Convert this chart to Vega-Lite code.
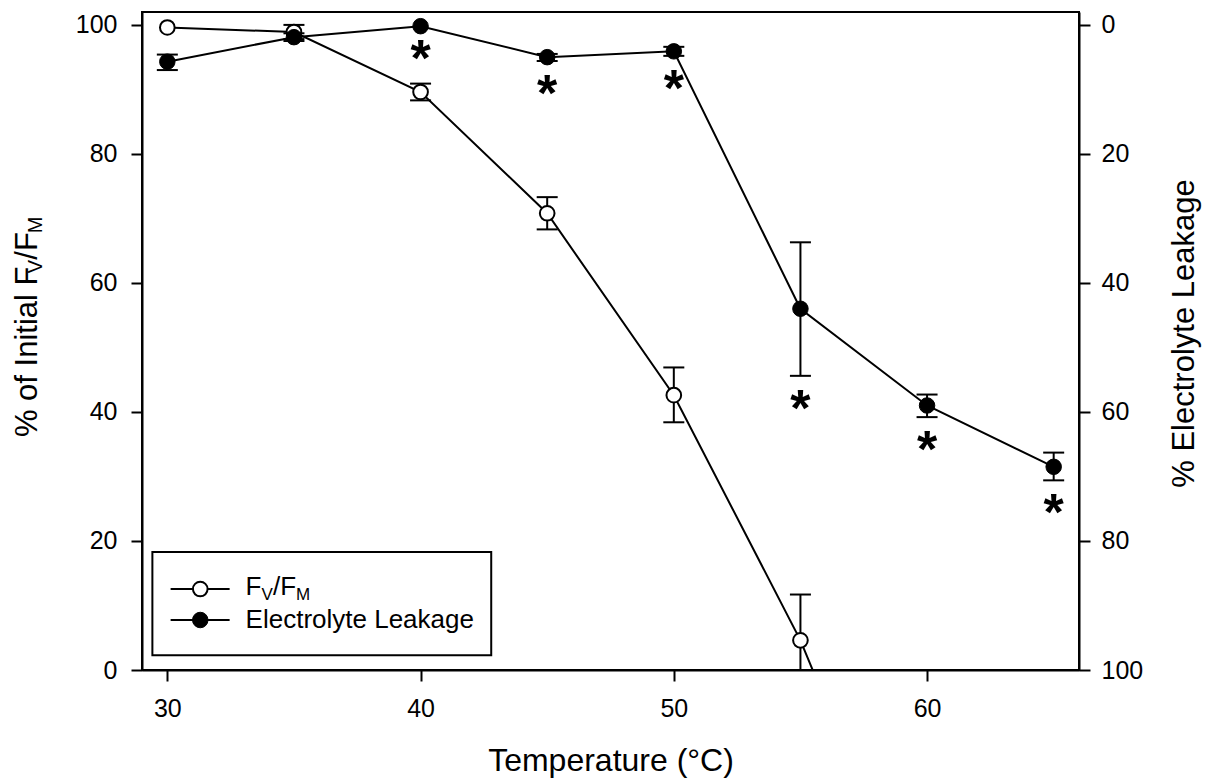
{
  "$schema": "https://vega.github.io/schema/vega-lite/v6.json",
  "width": 937,
  "height": 658,
  "autosize": {"type": "none"},
  "padding": {"left": 142, "top": 12, "right": 128, "bottom": 108},
  "background": "white",
  "config": {
    "font": "Liberation Sans",
    "view": {"stroke": "black", "strokeWidth": 2},
    "axis": {
      "domainColor": "black", "domainWidth": 2,
      "tickColor": "black", "tickWidth": 2, "tickSize": 11,
      "labelFont": "Liberation Sans", "labelFontSize": 25, "labelColor": "black",
      "titleFont": "Liberation Sans", "titleFontSize": 31, "titleFontWeight": "normal", "titleColor": "black",
      "grid": false
    }
  },
  "datasets": {
    "fv": [
      {"temp": 30, "fv": 99.6},
      {"temp": 35, "fv": 98.9, "fvLo": 97.8, "fvHi": 100.0},
      {"temp": 40, "fv": 89.6, "fvLo": 88.3, "fvHi": 90.9},
      {"temp": 45, "fv": 70.8, "fvLo": 68.3, "fvHi": 73.3},
      {"temp": 50, "fv": 42.6, "fvLo": 38.4, "fvHi": 46.9},
      {"temp": 55, "fv": 4.6, "fvLo": -2.5, "fvHi": 11.7},
      {"temp": 60, "fv": -43}
    ],
    "leak": [
      {"temp": 30, "leak": 5.7, "leakLo": 4.6, "leakHi": 7.0, "sig": ""},
      {"temp": 35, "leak": 1.9, "leakLo": 1.3, "leakHi": 2.5, "sig": ""},
      {"temp": 40, "leak": 0.2, "leakLo": 0.2, "leakHi": 0.2, "sig": "*"},
      {"temp": 45, "leak": 5.0, "leakLo": 4.5, "leakHi": 5.6, "sig": "*"},
      {"temp": 50, "leak": 4.1, "leakLo": 3.4, "leakHi": 4.8, "sig": "*"},
      {"temp": 55, "leak": 44.0, "leakLo": 33.7, "leakHi": 54.4, "sig": "*"},
      {"temp": 60, "leak": 59.0, "leakLo": 57.3, "leakHi": 60.8, "sig": "*"},
      {"temp": 65, "leak": 68.5, "leakLo": 66.3, "leakHi": 70.6, "sig": "*"}
    ]
  },
  "layer": [
    {
      "encoding": {
        "y": {
          "type": "quantitative",
          "scale": {"domain": [0, 102], "nice": false, "zero": false},
          "axis": {"orient": "left", "values": [0, 20, 40, 60, 80, 100], "title": null, "labelPadding": 14}
        }
      },
      "layer": [
        {
          "data": {"name": "fv"},
          "encoding": {
            "x": {
              "field": "temp", "type": "quantitative",
              "scale": {"domain": [29, 66], "nice": false, "zero": false},
              "axis": {"values": [30, 40, 50, 60], "title": "Temperature (°C)", "titleFontSize": 32, "labelPadding": 15, "titlePadding": 24}
            }
          },
          "layer": [
            {
              "transform": [{"filter": "isValid(datum.fvLo)"}],
              "mark": {"type": "rule", "color": "black", "strokeWidth": 2, "clip": true},
              "encoding": {"y": {"field": "fvLo", "type": "quantitative"}, "y2": {"field": "fvHi"}}
            },
            {
              "transform": [{"filter": "isValid(datum.fvLo)"}],
              "mark": {"type": "tick", "orient": "horizontal", "color": "black", "size": 21, "thickness": 2, "opacity": 1, "clip": true},
              "encoding": {"y": {"field": "fvLo", "type": "quantitative"}}
            },
            {
              "transform": [{"filter": "isValid(datum.fvHi)"}],
              "mark": {"type": "tick", "orient": "horizontal", "color": "black", "size": 21, "thickness": 2, "opacity": 1, "clip": true},
              "encoding": {"y": {"field": "fvHi", "type": "quantitative"}}
            },
            {
              "mark": {"type": "line", "color": "black", "strokeWidth": 2, "clip": true},
              "encoding": {"y": {"field": "fv", "type": "quantitative"}}
            },
            {
              "transform": [{"filter": "datum.fv >= 0"}],
              "mark": {"type": "point", "shape": "circle", "filled": true, "fill": "white", "stroke": "black", "strokeWidth": 2, "size": 215, "opacity": 1},
              "encoding": {"y": {"field": "fv", "type": "quantitative"}}
            }
          ]
        },
        {
          "data": {"values": [{"box": "legend"}]},
          "mark": {"type": "rect", "fill": "white", "stroke": "black", "strokeWidth": 2},
          "encoding": {
            "x": {"datum": 29.41, "type": "quantitative"}, "x2": {"datum": 42.79},
            "y": {"datum": 18.3, "type": "quantitative"}, "y2": {"datum": 2.3}
          }
        },
        {
          "data": {"values": [{"row": "fv", "ly": 12.55}, {"row": "leak", "ly": 7.75}]},
          "mark": {"type": "rule", "color": "black", "strokeWidth": 2},
          "encoding": {
            "x": {"datum": 30.13, "type": "quantitative"}, "x2": {"datum": 32.46},
            "y": {"field": "ly", "type": "quantitative"}
          }
        },
        {
          "data": {"values": [{"row": "fv", "ly": 12.55}]},
          "mark": {"type": "point", "shape": "circle", "filled": true, "fill": "white", "stroke": "black", "strokeWidth": 2, "size": 215, "opacity": 1},
          "encoding": {"x": {"datum": 31.3, "type": "quantitative"}, "y": {"field": "ly", "type": "quantitative"}}
        },
        {
          "data": {"values": [{"row": "leak", "ly": 7.75}]},
          "mark": {"type": "point", "shape": "circle", "filled": true, "fill": "black", "stroke": "black", "strokeWidth": 1, "size": 240, "opacity": 1},
          "encoding": {"x": {"datum": 31.3, "type": "quantitative"}, "y": {"field": "ly", "type": "quantitative"}}
        },
        {
          "data": {"values": [{"label": "F"}]},
          "mark": {"type": "text", "fontSize": 26, "align": "left", "baseline": "alphabetic", "color": "black"},
          "encoding": {"x": {"datum": 33.09, "type": "quantitative"}, "y": {"datum": 11.63, "type": "quantitative"}, "text": {"field": "label"}}
        },
        {
          "data": {"values": [{"label": "V"}]},
          "mark": {"type": "text", "fontSize": 17, "align": "left", "baseline": "alphabetic", "color": "black"},
          "encoding": {"x": {"datum": 33.72, "type": "quantitative"}, "y": {"datum": 10.85, "type": "quantitative"}, "text": {"field": "label"}}
        },
        {
          "data": {"values": [{"label": "/F"}]},
          "mark": {"type": "text", "fontSize": 26, "align": "left", "baseline": "alphabetic", "color": "black"},
          "encoding": {"x": {"datum": 34.17, "type": "quantitative"}, "y": {"datum": 11.63, "type": "quantitative"}, "text": {"field": "label"}}
        },
        {
          "data": {"values": [{"label": "M"}]},
          "mark": {"type": "text", "fontSize": 17, "align": "left", "baseline": "alphabetic", "color": "black"},
          "encoding": {"x": {"datum": 35.08, "type": "quantitative"}, "y": {"datum": 10.85, "type": "quantitative"}, "text": {"field": "label"}}
        },
        {
          "data": {"values": [{"label": "Electrolyte Leakage"}]},
          "mark": {"type": "text", "fontSize": 26, "align": "left", "baseline": "alphabetic", "color": "black"},
          "encoding": {"x": {"datum": 33.09, "type": "quantitative"}, "y": {"datum": 6.51, "type": "quantitative"}, "text": {"field": "label"}}
        },
        {
          "data": {"values": [{"label": "% of Initial F"}]},
          "mark": {"type": "text", "fontSize": 31, "angle": 270, "align": "left", "baseline": "alphabetic", "dy": -105, "color": "black"},
          "encoding": {"x": {"datum": 29, "type": "quantitative"}, "y": {"datum": 36.1, "type": "quantitative"}, "text": {"field": "label"}}
        },
        {
          "data": {"values": [{"label": "V"}]},
          "mark": {"type": "text", "fontSize": 20, "angle": 270, "align": "left", "baseline": "alphabetic", "dy": -100, "color": "black"},
          "encoding": {"x": {"datum": 29, "type": "quantitative"}, "y": {"datum": 61.5, "type": "quantitative"}, "text": {"field": "label"}}
        },
        {
          "data": {"values": [{"label": "/F"}]},
          "mark": {"type": "text", "fontSize": 31, "angle": 270, "align": "left", "baseline": "alphabetic", "dy": -105, "color": "black"},
          "encoding": {"x": {"datum": 29, "type": "quantitative"}, "y": {"datum": 63.6, "type": "quantitative"}, "text": {"field": "label"}}
        },
        {
          "data": {"values": [{"label": "M"}]},
          "mark": {"type": "text", "fontSize": 20, "angle": 270, "align": "left", "baseline": "alphabetic", "dy": -100, "color": "black"},
          "encoding": {"x": {"datum": 29, "type": "quantitative"}, "y": {"datum": 67.7, "type": "quantitative"}, "text": {"field": "label"}}
        }
      ]
    },
    {
      "data": {"name": "leak"},
      "encoding": {
        "x": {
          "field": "temp", "type": "quantitative",
          "scale": {"domain": [29, 66], "nice": false, "zero": false},
          "axis": {"values": [30, 40, 50, 60], "title": "Temperature (°C)", "titleFontSize": 32, "labelPadding": 15, "titlePadding": 24}
        },
        "y": {
          "type": "quantitative",
          "scale": {"domain": [-2, 100], "reverse": true, "nice": false, "zero": false},
          "axis": {"orient": "right", "values": [0, 20, 40, 60, 80, 100], "title": "% Electrolyte Leakage", "titleAngle": 270, "titleY": 321, "labelPadding": 11, "titlePadding": 58}
        }
      },
      "layer": [
        {
          "transform": [{"filter": "datum.leakHi > datum.leakLo"}],
          "mark": {"type": "rule", "color": "black", "strokeWidth": 2},
          "encoding": {"y": {"field": "leakLo", "type": "quantitative"}, "y2": {"field": "leakHi"}}
        },
        {
          "transform": [{"filter": "datum.leakHi > datum.leakLo"}],
          "mark": {"type": "tick", "orient": "horizontal", "color": "black", "size": 21, "thickness": 2, "opacity": 1},
          "encoding": {"y": {"field": "leakLo", "type": "quantitative"}}
        },
        {
          "transform": [{"filter": "datum.leakHi > datum.leakLo"}],
          "mark": {"type": "tick", "orient": "horizontal", "color": "black", "size": 21, "thickness": 2, "opacity": 1},
          "encoding": {"y": {"field": "leakHi", "type": "quantitative"}}
        },
        {
          "mark": {"type": "line", "color": "black", "strokeWidth": 2},
          "encoding": {"y": {"field": "leak", "type": "quantitative"}}
        },
        {
          "mark": {"type": "point", "shape": "circle", "filled": true, "fill": "black", "stroke": "black", "strokeWidth": 1, "size": 240, "opacity": 1},
          "encoding": {"y": {"field": "leak", "type": "quantitative"}}
        },
        {
          "transform": [{"filter": "datum.sig == '*'"}],
          "mark": {"type": "text", "fontSize": 52, "fontWeight": "bold", "align": "center", "baseline": "alphabetic", "dy": 50, "color": "black"},
          "encoding": {"y": {"field": "leakHi", "type": "quantitative"}, "text": {"field": "sig"}}
        }
      ]
    }
  ],
  "resolve": {"scale": {"y": "independent"}}
}
